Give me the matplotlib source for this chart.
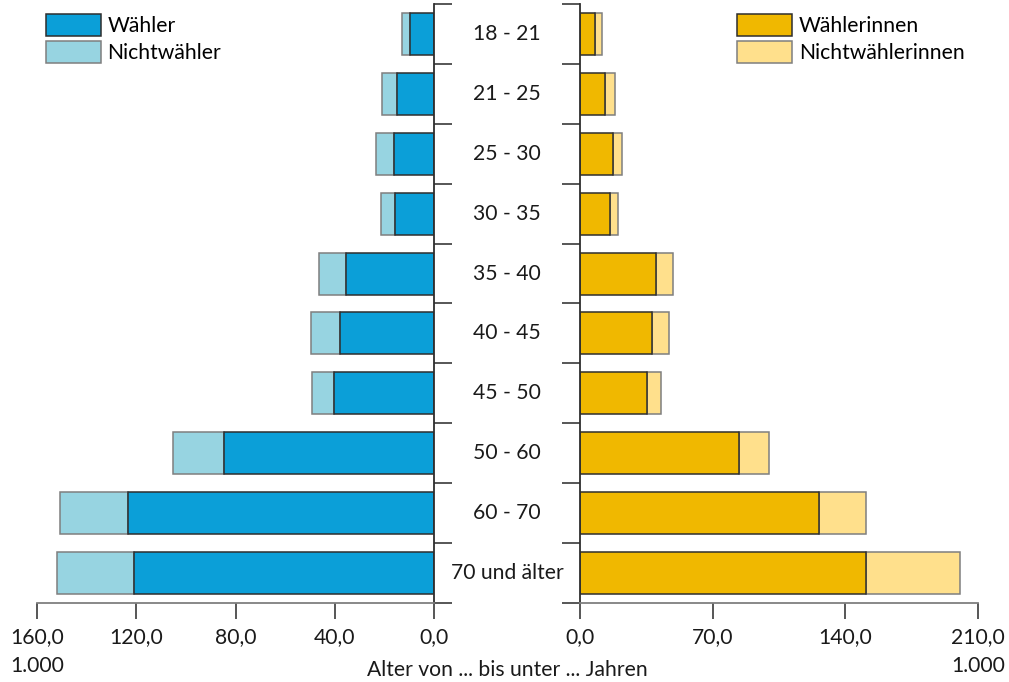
import matplotlib

matplotlib.use("Agg")
import matplotlib.pyplot as plt
import numpy as np

plt.rcParams["font.family"] = ["Lato", "DejaVu Sans"]

# values in 1.000
age_groups = ["18 - 21", "21 - 25", "25 - 30", "30 - 35", "35 - 40",
              "40 - 45", "45 - 50", "50 - 60", "60 - 70", "70 und älter"]
waehler = [9.7, 15.0, 16.0, 15.6, 35.5, 37.9, 40.4, 84.8, 123.2, 120.8]
nichtwaehler = [3.3, 5.8, 7.5, 5.8, 10.9, 11.6, 8.8, 20.4, 27.4, 31.0]
waehlerinnen = [7.9, 13.3, 17.1, 15.7, 39.9, 37.7, 35.3, 83.7, 126.1, 151.1]
nichtwaehlerinnen = [3.4, 5.1, 5.1, 4.3, 9.1, 8.9, 7.5, 16.2, 25.0, 49.4]

left_ticks = [0, 40, 80, 120, 160]
right_ticks = [0, 70, 140, 210]

BLUE = "#0b9fd8"
LBLUE = "#97d4e1"
GOLD = "#f0b800"
LGOLD = "#ffe08c"
DARK = "#2e2e2e"
GREY = "#7f7f7f"
FS = 15.2

fig = plt.figure(figsize=(10.09, 6.82), dpi=100)
axl = fig.add_axes([37 / 1009, 1 - 603 / 682, 397 / 1009, 599 / 682])
axr = fig.add_axes([580.3 / 1009, 1 - 603 / 682, 397.5 / 1009, 599 / 682])

n = len(age_groups)
y = np.arange(n)[::-1]
h = 0.7


def fmt(v):
    return f"{v:.1f}".replace(".", ",")


for ax, a, b, ca, cb, ticks, lim in [
    (axl, waehler, nichtwaehler, BLUE, LBLUE, left_ticks, 160),
    (axr, waehlerinnen, nichtwaehlerinnen, GOLD, LGOLD, right_ticks, 210),
]:
    hb = ax.barh(y, b, left=a, height=h, color=cb, edgecolor=GREY, linewidth=1.1)
    ha = ax.barh(y, a, height=h, color=ca, edgecolor=DARK, linewidth=1.1)
    ax.set_ylim(-0.5, n - 0.5)
    ax.set_xlim(0, lim)
    ax.set_xticks(ticks)
    ax.set_xticklabels([fmt(t) for t in ticks], fontsize=FS, color="#1a1a1a")
    ax.set_yticks(np.arange(n + 1) - 0.5)
    ax.set_yticklabels([])
    ax.tick_params(axis="x", direction="out", length=11.5, width=1.2,
                   color="#3a3a3a", pad=6)
    ax.tick_params(axis="y", direction="out", length=12.7, width=1.2,
                   color="#3a3a3a")
    ax.spines["top"].set_visible(False)
    ax.spines["bottom"].set_color(GREY)
    ax.spines["bottom"].set_linewidth(1.3)
    ax.set_facecolor("none")
    ax.text(lim, -0.106, "1.000", transform=ax.get_xaxis_transform(),
            ha="center", va="center", fontsize=FS, color="#1a1a1a")
    if ax is axl:
        leg_handles, leg_labels = [ha, hb], ["Wähler", "Nichtwähler"]
        leg_x = 45.7
    else:
        leg_handles, leg_labels = [ha, hb], ["Wählerinnen", "Nichtwählerinnen"]
        leg_x = 737
    fig.legend(leg_handles, leg_labels, loc="upper left",
               bbox_to_anchor=(leg_x / 1009, 1 - 14 / 682),
               frameon=False, fontsize=FS, borderpad=0, borderaxespad=0,
               handlelength=2.6, handleheight=1.2, handletextpad=0.33,
               labelspacing=0.25)

axl.invert_xaxis()
axl.spines["left"].set_visible(False)
axl.spines["right"].set_color(DARK)
axl.spines["right"].set_linewidth(1.3)
axl.yaxis.tick_right()
axl.yaxis.set_ticks_position("right")

axr.spines["right"].set_visible(False)
axr.spines["left"].set_color(DARK)
axr.spines["left"].set_linewidth(1.3)
axr.yaxis.tick_left()

# age group labels in the gap between both panels
for yi, lab in zip(y, age_groups):
    axl.annotate(lab, xy=(1.0, (yi + 0.5) / n), xycoords="axes fraction",
                 xytext=(73, 0), textcoords="offset pixels",
                 ha="center", va="center", fontsize=FS, color="#1a1a1a")

fig.text(507 / 1009, 1 - 670 / 682, "Alter von ... bis unter ... Jahren",
         ha="center", va="center", fontsize=FS, color="#1a1a1a")

fig.savefig("out.png", dpi=100)
